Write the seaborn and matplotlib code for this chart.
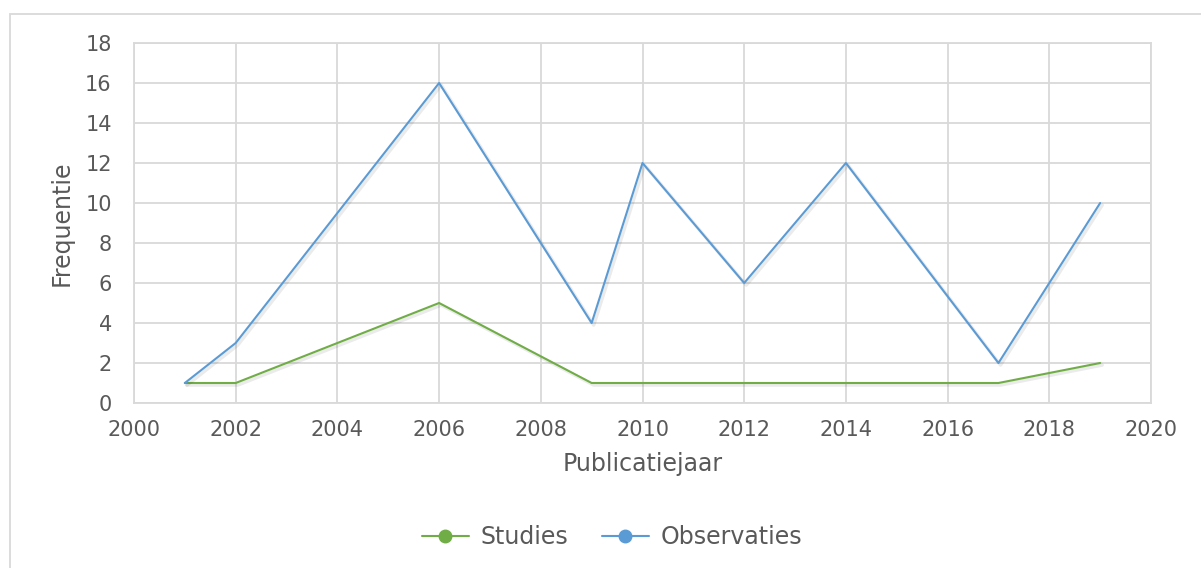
import matplotlib
matplotlib.use("Agg")
import matplotlib.pyplot as plt
import matplotlib.patheffects as pe
from matplotlib.lines import Line2D
from matplotlib.patches import Rectangle
import pandas as pd
import seaborn as sns

# Publication years and counts per year
years = [2001, 2002, 2006, 2009, 2010, 2012, 2014, 2017, 2019]
studies = [1, 1, 5, 1, 1, 1, 1, 1, 2]
observaties = [1, 3, 16, 4, 12, 6, 12, 2, 10]
series_names = ["Studies", "Observaties"]
series_colors = ["#70AD47", "#5B9BD5"]
x_ticks = list(range(2000, 2021, 2))
y_ticks = list(range(0, 19, 2))

df = pd.concat([
    pd.DataFrame({"Publicatiejaar": years, "Frequentie": studies, "Reeks": series_names[0]}),
    pd.DataFrame({"Publicatiejaar": years, "Frequentie": observaties, "Reeks": series_names[1]}),
])

sns.set_theme(style="white")
plt.rcParams["font.family"] = ["DejaVu Sans"]
text_color = "#595959"
grid_color = "#D9D9D9"
fs_tick = 15
fs_label = 17

fig = plt.figure(figsize=(12.01, 5.68), dpi=100)
ax = fig.add_axes([134 / 1201, 1 - 403 / 568, (1151 - 134) / 1201, (403 - 43) / 568])

sns.lineplot(data=df, x="Publicatiejaar", y="Frequentie", hue="Reeks",
             hue_order=series_names, palette=series_colors, linewidth=1.5,
             legend=False, ax=ax, zorder=3)

shadow = [pe.SimpleLineShadow(offset=(1.5, -1.5), shadow_color="#000000", alpha=0.08, linewidth=2.5),
          pe.Normal()]
for line in ax.get_lines():
    line.set_path_effects(shadow)

ax.set_xlim(2000, 2020)
ax.set_ylim(0, 18)
ax.set_xticks(x_ticks)
ax.set_yticks(y_ticks)
ax.grid(True, color=grid_color, linewidth=1.3)
ax.set_axisbelow(True)
for s in ax.spines.values():
    s.set_color(grid_color)
    s.set_linewidth(1.3)
ax.tick_params(axis="x", length=0, labelsize=fs_tick, labelcolor=text_color, pad=12)
ax.tick_params(axis="y", length=0, labelsize=fs_tick, labelcolor=text_color, pad=16)
ax.set_xlabel("Publicatiejaar", fontsize=fs_label, color=text_color, labelpad=9)
ax.set_ylabel("Frequentie", fontsize=fs_label, color=text_color, labelpad=8)

handles = [Line2D([0], [0], color=c, linewidth=1.5, marker="o", markersize=9,
                  markerfacecolor=c, markeredgecolor=c) for c in series_colors]
fig.legend(handles, series_names, loc="center", bbox_to_anchor=(612 / 1201, 1 - 537 / 568),
           ncol=2, frameon=False, fontsize=fs_label, labelcolor=text_color,
           handlelength=2.0, handletextpad=0.5, columnspacing=1.4)

fig.patches.append(Rectangle((10 / 1201, -0.01), 1.2, 1 - 14 / 568 + 0.01,
                             transform=fig.transFigure, fill=False,
                             edgecolor=grid_color, linewidth=1.3))

fig.savefig("out.png", dpi=100)
